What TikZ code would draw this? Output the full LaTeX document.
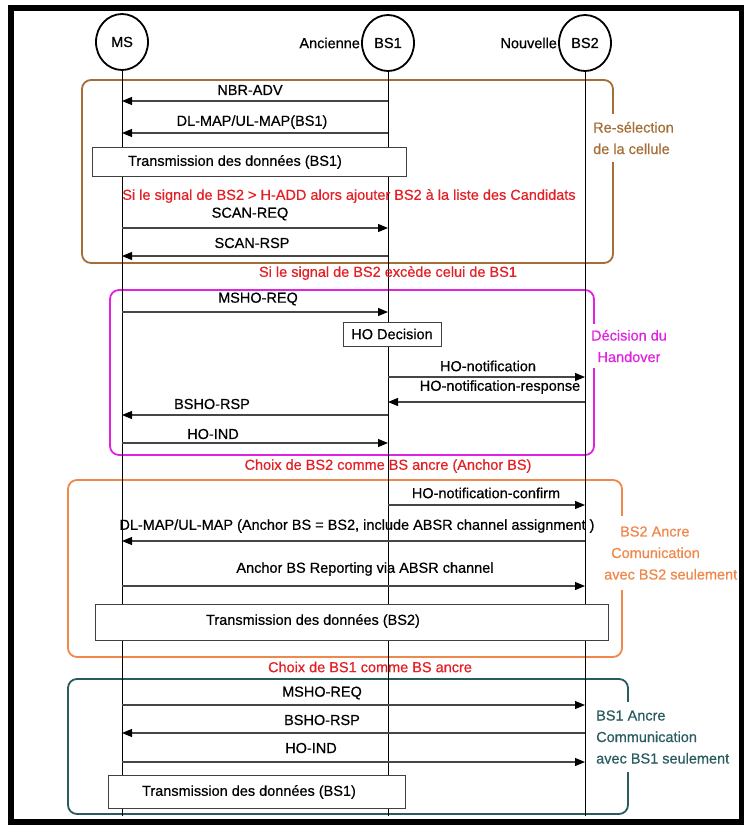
\documentclass[tikz,border=0pt]{standalone}
\usepackage{fontspec}
\setmainfont{Liberation Sans}[FakeBold=0.5]
\usetikzlibrary{arrows.meta,shapes.geometric}
\definecolor{brn}{RGB}{165,110,55}
\definecolor{mag}{RGB}{225,35,225}
\definecolor{org}{RGB}{240,135,75}
\definecolor{tea}{RGB}{40,92,95}
\definecolor{rd}{RGB}{228,32,38}
\definecolor{arr}{RGB}{70,70,70}
\begin{document}
\begin{tikzpicture}[x=1pt,y=-1pt,
  font=\fontsize{14.5}{21.5}\selectfont,
  actor/.style={draw, line width=1.8pt, ellipse, minimum width=52pt, minimum height=56pt, inner sep=0pt},
  life/.style={line width=0.8pt},
  msg/.style={draw=arr, line width=1.1pt, -{Triangle[length=10pt,width=8pt,color=black,fill=black]}},
  lbl/.style={inner sep=1pt},
  cond/.style={inner sep=1pt, text=rd},
  grp/.style={rounded corners=9pt, line width=1.8pt},
  glbl/.style={fill=white, inner xsep=1pt, align=left},
  databox/.style={draw=gray!50!black, line width=0.9pt, fill=white},
]
\useasboundingbox (0,0) rectangle (744,825);
\fill[white] (0,0) rectangle (744,825);

% groups
\draw[grp, brn] (82,80) rectangle (613,263);
\draw[grp, mag] (110,290) rectangle (594,455);
\draw[grp, org] (68,480) rectangle (622,657);
\draw[grp, tea] (68,679) rectangle (628,814);

% actors
\node[actor] (ms) at (122,42) {MS};
\node[actor] (bs1) at (388,43) {BS1};
\node[actor] (bs2) at (585,43) {BS2};
\node[lbl, anchor=east] (anc) at (bs1.west) {Ancienne};
\node[lbl, anchor=east] (nou) at (bs2.west) {Nouvelle};

% lifelines
\coordinate (msE) at (122,816);
\coordinate (bs1E) at (388,816);
\coordinate (bs2E) at (585,816);
\draw[life] (ms) -- (msE);
\draw[life] (bs1) -- (bs1E);
\draw[life] (bs2) -- (bs2E);

% group labels
\node[glbl, text=brn, inner ysep=8pt, anchor=west] (g1) at (592,138) {Re-sélection\\de la cellule};
\node[glbl, text=mag, inner ysep=6pt, align=center] (g2) at (629,346) {Décision du\\Handover};
\node[glbl, text=org, inner ysep=10pt, anchor=west] (g3) at (603,553) {\hspace*{16pt}BS2 Ancre\\\hspace*{7pt}Comunication\\avec BS2 seulement};
\node[glbl, text=tea, inner ysep=8pt, anchor=west] (g4) at (595,737) {BS1 Ancre\\Communication\\avec BS1 seulement};

% group 1
\node[lbl] (t1) at (250,90) {NBR-ADV};
\draw[msg] (bs1 |- 0,101) -- (ms |- 0,101);
\node[lbl] (t2) at (252,122) {DL-MAP/UL-MAP(BS1)};
\draw[msg] (bs1 |- 0,133) -- (ms |- 0,133);
\node[databox, minimum width=314pt, minimum height=29pt] (d1) at (249,162) {};
\node[lbl] at (235,162) {Transmission des données (BS1)};
\node[cond] (c1) at (349,196) {Si le signal de BS2 > H-ADD alors ajouter BS2 à la liste des Candidats};
\node[lbl] (t3) at (250,214) {SCAN-REQ};
\draw[msg] (ms |- 0,228) -- (bs1 |- 0,228);
\node[lbl] (t4) at (252,243) {SCAN-RSP};
\draw[msg] (bs1 |- 0,256) -- (ms |- 0,256);

\node[cond] (c2) at (388,273) {Si le signal de BS2 excède celui de BS1};

% group 2
\node[lbl] (t5) at (258,299) {MSHO-REQ};
\draw[msg] (ms |- 0,312) -- (bs1 |- 0,312);
\node[databox, minimum width=98pt, minimum height=24pt] (hod) at (392,334) {HO Decision};
\node[lbl] (t6) at (488,366) {HO-notification};
\draw[msg] (bs1 |- 0,377) -- (bs2 |- 0,377);
\node[lbl] (t7) at (500,387) {HO-notification-response};
\draw[msg] (bs2 |- 0,402) -- (bs1 |- 0,402);
\node[lbl] (t8) at (212,404) {BSHO-RSP};
\draw[msg] (bs1 |- 0,415) -- (ms |- 0,415);
\node[lbl] (t9) at (213,434) {HO-IND};
\draw[msg] (ms |- 0,443) -- (bs1 |- 0,443);

\node[cond] (c3) at (388,466) {Choix de BS2 comme BS ancre (Anchor BS)};

% group 3
\node[lbl] (t10) at (486,493) {HO-notification-confirm};
\draw[msg] (bs1 |- 0,505) -- (bs2 |- 0,505);
\node[lbl] (t11) at (357,526) {DL-MAP/UL-MAP (Anchor BS = BS2, include ABSR channel assignment )};
\draw[msg] (bs2 |- 0,541) -- (ms |- 0,541);
\node[lbl] (t12) at (365,569) {Anchor BS Reporting via ABSR channel};
\draw[msg] (ms |- 0,586) -- (bs2 |- 0,586);
\node[databox, minimum width=513pt, minimum height=36pt] (d2) at (351.5,622) {};
\node[lbl] at (313,621) {Transmission des données (BS2)};

\node[cond] (c4) at (370,667) {Choix de BS1 comme BS ancre};

% group 4
\node[lbl] (t13) at (322,693) {MSHO-REQ};
\draw[msg] (ms |- 0,705) -- (bs2 |- 0,705);
\node[lbl] (t14) at (322,720) {BSHO-RSP};
\draw[msg] (bs2 |- 0,733) -- (ms |- 0,733);
\node[lbl] (t15) at (311,748) {HO-IND};
\draw[msg] (ms |- 0,762) -- (bs2 |- 0,762);
\node[databox, minimum width=297pt, minimum height=33pt] (d3) at (256.5,792) {};
\node[lbl] at (249,792) {Transmission des données (BS1)};

% outer frame drawn last
\draw[line width=5.5pt] (11,8) rectangle (741.5,822);
\end{tikzpicture}
\end{document}
